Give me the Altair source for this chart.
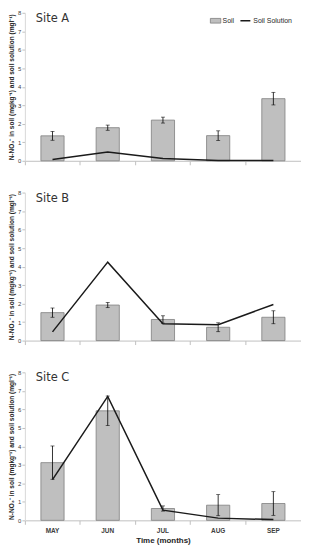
import altair as alt
import pandas as pd

months = ["MAY", "JUN", "JUL", "AUG", "SEP"]

soil_A = [1.35, 1.79, 2.20, 1.36, 3.36]
err_A = [0.24, 0.14, 0.16, 0.26, 0.34]
sol_A = [0.07, 0.47, 0.12, 0.02, 0.02]

soil_B = [1.51, 1.92, 1.14, 0.72, 1.26]
err_B = [0.25, 0.14, 0.20, 0.24, 0.35]
sol_B = [0.47, 4.24, 0.91, 0.86, 1.95]

soil_C = [3.12, 5.92, 0.64, 0.82, 0.91]
err_C = [0.90, 0.80, 0.14, 0.57, 0.64]
sol_C = [2.20, 6.70, 0.55, 0.12, 0.04]

y_title = "N-NO\u2083\u207b in soil (mgkg\u207b\u00b9) and soil solution (mgl\u207b\u00b9)"
FONT = "Liberation Sans Narrow, Liberation Sans, Arial"
W, H = 278, 149


def panel(site, soil, err, sol, bottom, legend):
    df = pd.DataFrame({
        "month": months,
        "soil": soil,
        "lo": [s - e for s, e in zip(soil, err)],
        "hi": [s + e for s, e in zip(soil, err)],
        "sol": sol,
        "s1": ["Soil"] * 5,
        "s2": ["Soil Solution"] * 5,
    })
    xaxis = alt.Axis(
        bandPosition=0, labelAngle=0,
        labels=bottom, title="Time (months)" if bottom else None,
        domainColor="#bfbfbf", tickColor="#bfbfbf", tickSize=4,
        labelFontSize=6.5, labelFontWeight="bold", labelColor="#404040",
        labelFont=FONT, labelPadding=3,
        titleFont=FONT, titleFontSize=8, titleFontWeight="bold",
        titleColor="#262626", titlePadding=3,
    )
    x = alt.X("month:N", sort=months,
              scale=alt.Scale(paddingInner=0, paddingOuter=0), axis=xaxis)
    yscale = alt.Scale(domain=[0, 8], nice=False)
    yaxis = alt.Axis(
        values=list(range(9)), title=y_title, grid=False,
        domainColor="#d9d9d9", tickColor="#bfbfbf", tickSize=3,
        labelFontSize=6, labelColor="#404040", labelFont=FONT, labelPadding=1,
        titleFont=FONT, titleFontSize=6.6, titleFontWeight="bold",
        titleColor="#262626", titlePadding=3,
    )
    base = alt.Chart(df)

    if legend:
        fill = alt.Fill("s1:N", scale=alt.Scale(range=["#bfbfbf"]),
                        legend=alt.Legend(
                            title=None, orient="none", legendX=186, legendY=2,
                            padding=0, symbolType="M-1,-0.45H1V0.45H-1Z",
                            symbolSize=110, symbolStrokeColor="#7f7f7f",
                            symbolStrokeWidth=0.8, labelFontSize=7,
                            labelFont=FONT, labelColor="#262626", labelOffset=1))
        stroke = alt.Stroke("s2:N", scale=alt.Scale(range=["#1a1a1a"]),
                            legend=alt.Legend(
                                title=None, orient="none", legendX=216, legendY=2,
                                padding=0, symbolType="stroke", symbolSize=100,
                                symbolStrokeWidth=1.5, labelFontSize=7,
                                labelFont=FONT, labelColor="#262626", labelOffset=2))
    else:
        fill = alt.value("#bfbfbf")
        stroke = alt.value("#1a1a1a")

    bars = base.mark_bar(width={"band": 0.42}, stroke="#7f7f7f",
                         strokeWidth=0.8).encode(
        x=x, y=alt.Y("soil:Q", scale=yscale, axis=yaxis), fill=fill)
    rule = base.mark_rule(color="#000000", strokeWidth=0.8).encode(
        x=x, y=alt.Y("lo:Q", scale=yscale, axis=yaxis), y2="hi:Q")
    cap_lo = base.mark_tick(color="#000000", size=4, thickness=0.8).encode(
        x=x, y=alt.Y("lo:Q", scale=yscale, axis=yaxis))
    cap_hi = base.mark_tick(color="#000000", size=4, thickness=0.8).encode(
        x=x, y=alt.Y("hi:Q", scale=yscale, axis=yaxis))
    line = base.mark_line(strokeWidth=1.5).encode(
        x=x, y=alt.Y("sol:Q", scale=yscale, axis=yaxis), stroke=stroke)
    label = alt.Chart(alt.Data(values=[{"site": site}])).mark_text(
        align="left", baseline="middle", fontSize=11.5, font="DejaVu Sans",
        color="#333333").encode(
        x=alt.value(11), y=alt.value(6), text="site:N")
    return alt.layer(bars, rule, cap_lo, cap_hi, line, label).properties(
        width=W, height=H)


chart = alt.VConcatChart(
    vconcat=[
        panel("Site A", soil_A, err_A, sol_A, False, True),
        panel("Site B", soil_B, err_B, sol_B, False, False),
        panel("Site C", soil_C, err_C, sol_C, True, False),
    ],
    spacing=32,
    bounds="flush",
    padding={"left": 0, "top": 0, "right": 0, "bottom": 0},
).resolve_scale(fill="independent", stroke="independent").configure(
    background="white", view=alt.ViewConfig(stroke=None))

chart.save("out.html", embed_options={"renderer": "svg", "actions": False})
